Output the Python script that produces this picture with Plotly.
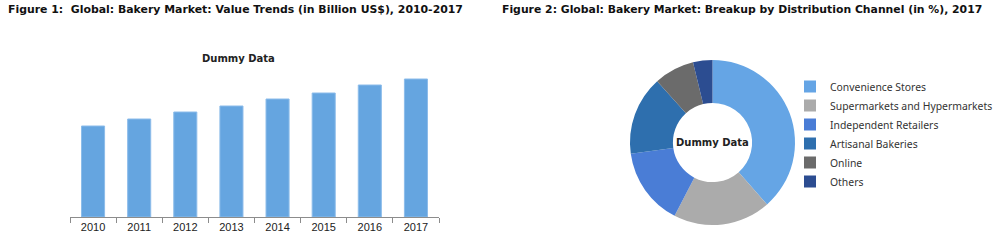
import plotly.graph_objects as go

W, H = 1000, 242

years = ["2010", "2011", "2012", "2013", "2014", "2015", "2016", "2017"]
values = [91, 98, 105, 111, 118, 124, 132, 138]

channels = ["Convenience Stores", "Supermarkets and Hypermarkets", "Independent Retailers",
            "Artisanal Bakeries", "Online", "Others"]
shares = [38.5, 19.1, 15.2, 15.5, 7.9, 3.8]
pie_colors = ["#65a5e5", "#ababab", "#4a7dd6", "#2e6fae", "#6b6b6b", "#2c4d91"]

title1 = "Figure 1:  Global: Bakery Market: Value Trends (in Billion US$), 2010-2017"
title2 = "Figure 2: Global: Bakery Market: Breakup by Distribution Channel (in %), 2017"

def px(x):
    return x / W

def py(y):
    return 1 - y / H

fig = go.Figure()
fig.add_trace(go.Bar(x=years, y=values, marker=dict(color="#65a5e0", line=dict(color="#8cbcea", width=1)),
                     showlegend=False, xaxis="x", yaxis="y"))
fig.add_trace(go.Pie(labels=channels, values=shares, sort=False, direction="clockwise", rotation=0,
                     hole=0.48, marker=dict(colors=pie_colors), textinfo="none",
                     domain=dict(x=[px(630), px(795)], y=[py(225), py(60)])))

fig.update_layout(
    width=W, height=H, margin=dict(l=0, r=0, t=0, b=0, autoexpand=False),
    paper_bgcolor="white", plot_bgcolor="white",
    bargap=0.5,
    xaxis=dict(domain=[px(70), px(439)], showline=True, linecolor="#8c8c8c", linewidth=1,
               ticks="outside", tickson="boundaries", ticklen=5, tickcolor="#8c8c8c",
               tickfont=dict(family="Liberation Sans", size=11, color="#222"), showgrid=False),
    yaxis=dict(domain=[py(217), py(70)], range=[0, 147], visible=False),
    legend=dict(x=px(790), y=py(72), xanchor="left", yanchor="top",
                font=dict(family="Noto Sans", size=10.4, color="#333"), itemwidth=30,
                bgcolor="rgba(0,0,0,0)"),
    annotations=[
        dict(text="<b>" + title1 + "</b>", x=px(6), y=py(10), xref="paper", yref="paper",
             xanchor="left", yanchor="middle", showarrow=False,
             font=dict(family="DejaVu Sans", size=10.9, color="#111")),
        dict(text="<b>" + title2 + "</b>", x=px(500), y=py(10), xref="paper", yref="paper",
             xanchor="left", yanchor="middle", showarrow=False,
             font=dict(family="DejaVu Sans", size=10.85, color="#111")),
        dict(text="<b>Dummy Data</b>", x=px(238), y=py(59), xref="paper", yref="paper",
             xanchor="center", yanchor="middle", showarrow=False,
             font=dict(family="DejaVu Sans", size=10, color="#222")),
        dict(text="<b>Dummy Data</b>", x=px(712.5), y=py(142.5), xref="paper", yref="paper",
             xanchor="center", yanchor="middle", showarrow=False,
             font=dict(family="DejaVu Sans", size=10, color="#222")),
    ],
)

fig.write_html("out.html")
